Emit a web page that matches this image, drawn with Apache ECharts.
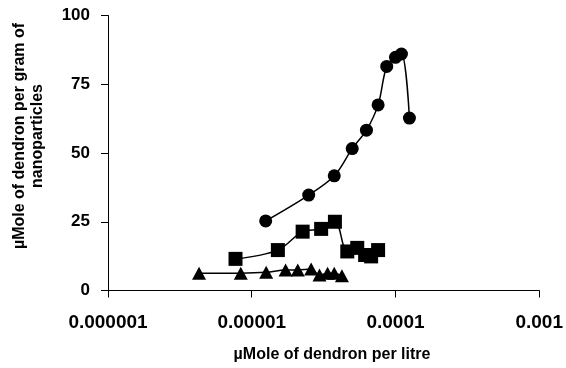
<!DOCTYPE html>
<html>
<head>
<meta charset="utf-8">
<script src="https://cdn.jsdelivr.net/npm/echarts@6/dist/echarts.min.js"></script>
<style>
html,body{margin:0;padding:0;background:#fff;}
#chart{width:566px;height:368px;}
</style>
</head>
<body>
<div id="chart"></div>
<script>
// Data
var circleX = [1.25e-5, 2.49e-5, 3.75e-5, 5.0e-5, 6.28e-5, 7.57e-5, 8.69e-5, 1.0e-4, 1.10e-4, 1.25e-4];
var circleY = [25.3, 34.7, 41.7, 51.6, 58.3, 67.5, 81.5, 84.8, 86.0, 62.7];

var squareX = [7.71e-6, 1.52e-5, 2.26e-5, 3.04e-5, 3.79e-5, 4.62e-5, 5.42e-5, 6.15e-5, 6.77e-5, 7.57e-5];
var squareY = [11.5, 14.7, 21.4, 22.4, 25.0, 14.2, 15.5, 12.9, 12.4, 14.7];

var triangleX = [4.30e-6, 8.39e-6, 1.26e-5, 1.72e-5, 2.09e-5, 2.59e-5, 2.96e-5, 3.37e-5, 3.75e-5, 4.24e-5];
var triangleY = [6.3, 6.3, 6.6, 7.5, 7.5, 7.8, 5.6, 6.3, 6.3, 5.4];

var xTickLabels = ['0.000001', '0.00001', '0.0001', '0.001'];
var yTicks = [0, 25, 50, 75, 100];

var xTitle = 'µMole of dendron per litre';
var yTitle = 'µMole of dendron per gram of\nnanoparticles';

function pairs(xs, ys) {
  return xs.map(function (x, i) { return [x, ys[i]]; });
}

var chart = echarts.init(document.getElementById('chart'), null, {renderer: 'canvas'});
var font = 'Liberation Sans, Arial, sans-serif';

function lineSeries(xs, ys, symbol, size) {
  return {
    type: 'line',
    data: pairs(xs, ys),
    symbol: symbol,
    symbolSize: size,
    smooth: 0.35,
    lineStyle: {color: '#000', width: 1.5},
    itemStyle: {color: '#000'},
    animation: false
  };
}

chart.setOption({
  animation: false,
  backgroundColor: '#fff',
  grid: {left: 108, right: 25, top: 15.5, bottom: 77.5, containLabel: false},
  xAxis: {
    type: 'log',
    logBase: 10,
    min: 1e-6,
    max: 1e-3,
    axisLine: {show: true, lineStyle: {color: '#000', width: 1}},
    axisTick: {show: true, length: 7, lineStyle: {color: '#000'}},
    minorTick: {show: false},
    splitLine: {show: false},
    axisLabel: {
      margin: 23,
      color: '#000',
      fontFamily: font,
      fontWeight: 'bold',
      fontSize: 19,
      formatter: function (v) {
        var k = Math.round(Math.log10(v)) + 6;
        return xTickLabels[k] !== undefined ? xTickLabels[k] : '';
      }
    }
  },
  yAxis: {
    type: 'value',
    min: 0,
    max: 100,
    interval: 25,
    axisLine: {show: true, lineStyle: {color: '#000', width: 1}},
    axisTick: {show: true, length: 7, lineStyle: {color: '#000'}},
    splitLine: {show: false},
    axisLabel: {
      margin: 18,
      color: '#000',
      fontFamily: font,
      fontWeight: 'bold',
      fontSize: 17
    }
  },
  graphic: [
    {
      type: 'text',
      x: 332,
      y: 355,
      style: {
        text: xTitle,
        font: 'bold 16px ' + font,
        fill: '#000',
        align: 'center',
        verticalAlign: 'middle'
      }
    },
    {
      type: 'text',
      x: 29,
      y: 136,
      rotation: Math.PI / 2,
      style: {
        text: yTitle,
        font: 'bold 16px ' + font,
        fill: '#000',
        align: 'center',
        verticalAlign: 'middle',
        lineHeight: 18
      }
    }
  ],
  series: [
    lineSeries(triangleX, triangleY, 'triangle', [14, 13]),
    lineSeries(squareX, squareY, 'rect', 14),
    lineSeries(circleX, circleY, 'circle', 13)
  ]
});
</script>
</body>
</html>
